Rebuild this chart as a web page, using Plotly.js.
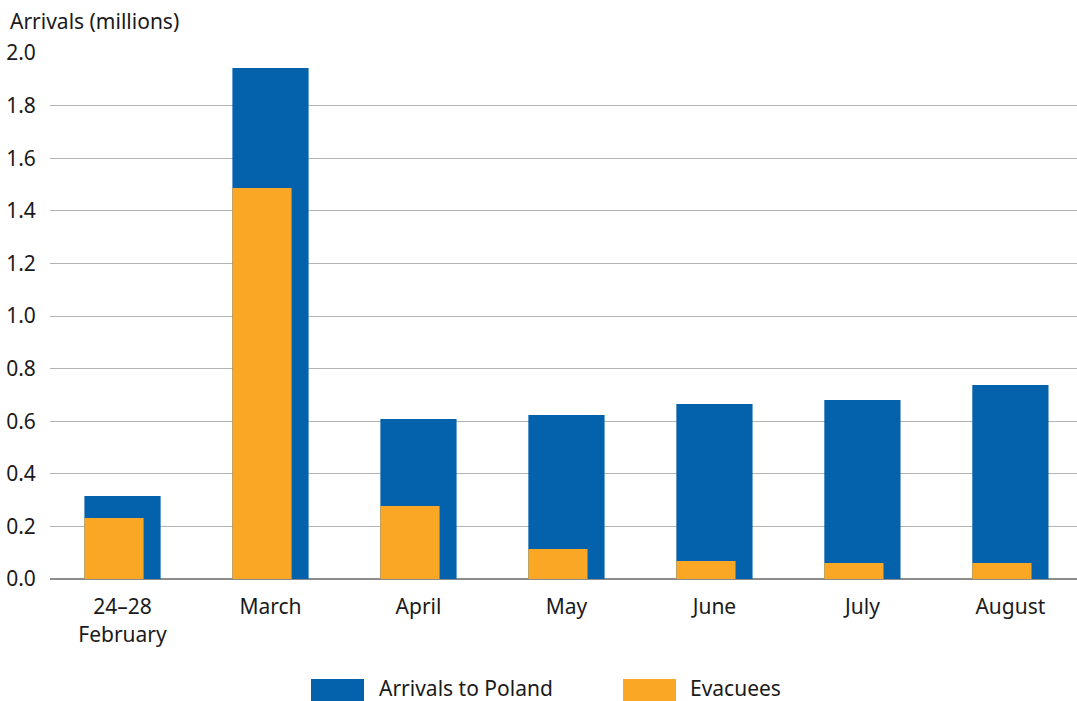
<!DOCTYPE html>
<html>
<head>
<meta charset="utf-8">
<script src="https://cdn.plot.ly/plotly-3.0.1.min.js"></script>
<style>html,body{margin:0;padding:0;background:#fff;}#chart{width:1077px;height:701px;}</style>
</head>
<body>
<div id="chart"></div>
<script>
const categories = ["24–28<br>February", "March", "April", "May", "June", "July", "August"];
const arrivalsToPoland = [0.316, 1.943, 0.608, 0.624, 0.665, 0.681, 0.738];
const evacuees = [0.232, 1.487, 0.278, 0.114, 0.068, 0.061, 0.061];
const yTickVals = [0, 0.2, 0.4, 0.6, 0.8, 1.0, 1.2, 1.4, 1.6, 1.8, 2.0];
const yTickText = ["0.0", "0.2", "0.4", "0.6", "0.8", "1.0", "1.2", "1.4", "1.6", "1.8", "2.0"];
const seriesNames = ["Arrivals to Poland", "Evacuees"];

const BLUE = "#0462ad";
const ORANGE = "#f9a724";
const FONT = "Noto Sans, Open Sans, sans-serif";
const FS = 21;
const blueW = 0.515, orangeW = 0.40;

const traces = [
  {type: "bar", x: categories, y: arrivalsToPoland, name: seriesNames[0],
   marker: {color: BLUE, line: {width: 0}}, width: blueW, offset: -blueW/2, hoverinfo: "y"},
  {type: "bar", x: categories, y: evacuees, name: seriesNames[1],
   marker: {color: ORANGE, line: {width: 0}}, width: orangeW, offset: -blueW/2, hoverinfo: "y"}
];

const W = 1027, H = 526;
function px(x){ return (x - 50) / W; }
function py(y){ return (579 - y) / H; }

const layout = {
  width: 1077, height: 701,
  margin: {l: 50, r: 0, t: 53, b: 122},
  paper_bgcolor: "#fff", plot_bgcolor: "#fff",
  barmode: "overlay",
  showlegend: false,
  font: {family: FONT, size: FS, color: "#1a1a1a"},
  xaxis: {
    type: "category", range: [-0.49, 6.45],
    showgrid: false, zeroline: false, showline: false,
    ticks: "outside", ticklen: 9, tickcolor: "rgba(0,0,0,0)",
    tickfont: {family: FONT, size: FS, color: "#1a1a1a"}
  },
  yaxis: {
    range: [0, 2.0], tickvals: yTickVals, ticktext: yTickText,
    showgrid: true, gridcolor: "#b3b3b3", gridwidth: 1,
    zeroline: true, zerolinecolor: "#8c8c8c", zerolinewidth: 2,
    showline: false,
    ticks: "outside", ticklen: 9, tickcolor: "rgba(0,0,0,0)",
    tickfont: {family: FONT, size: FS, color: "#1a1a1a"}
  },
  annotations: [
    {xref: "paper", yref: "paper", x: px(8), y: py(21), xanchor: "left", yanchor: "middle",
     text: "Arrivals (millions)", showarrow: false, font: {family: FONT, size: FS, color: "#1a1a1a"}},
    {xref: "paper", yref: "paper", x: px(377), y: py(688), xanchor: "left", yanchor: "middle",
     text: seriesNames[0], showarrow: false, font: {family: FONT, size: FS, color: "#1a1a1a"}},
    {xref: "paper", yref: "paper", x: px(688), y: py(688), xanchor: "left", yanchor: "middle",
     text: seriesNames[1], showarrow: false, font: {family: FONT, size: FS, color: "#1a1a1a"}}
  ],
  shapes: [
    {type: "rect", xref: "paper", yref: "paper", x0: px(311), x1: px(364), y0: py(679), y1: py(705),
     fillcolor: BLUE, line: {width: 0}},
    {type: "rect", xref: "paper", yref: "paper", x0: px(623), x1: px(676), y0: py(679), y1: py(705),
     fillcolor: ORANGE, line: {width: 0}}
  ]
};

Plotly.newPlot("chart", traces, layout, {displayModeBar: false, staticPlot: true});
</script>
</body>
</html>
